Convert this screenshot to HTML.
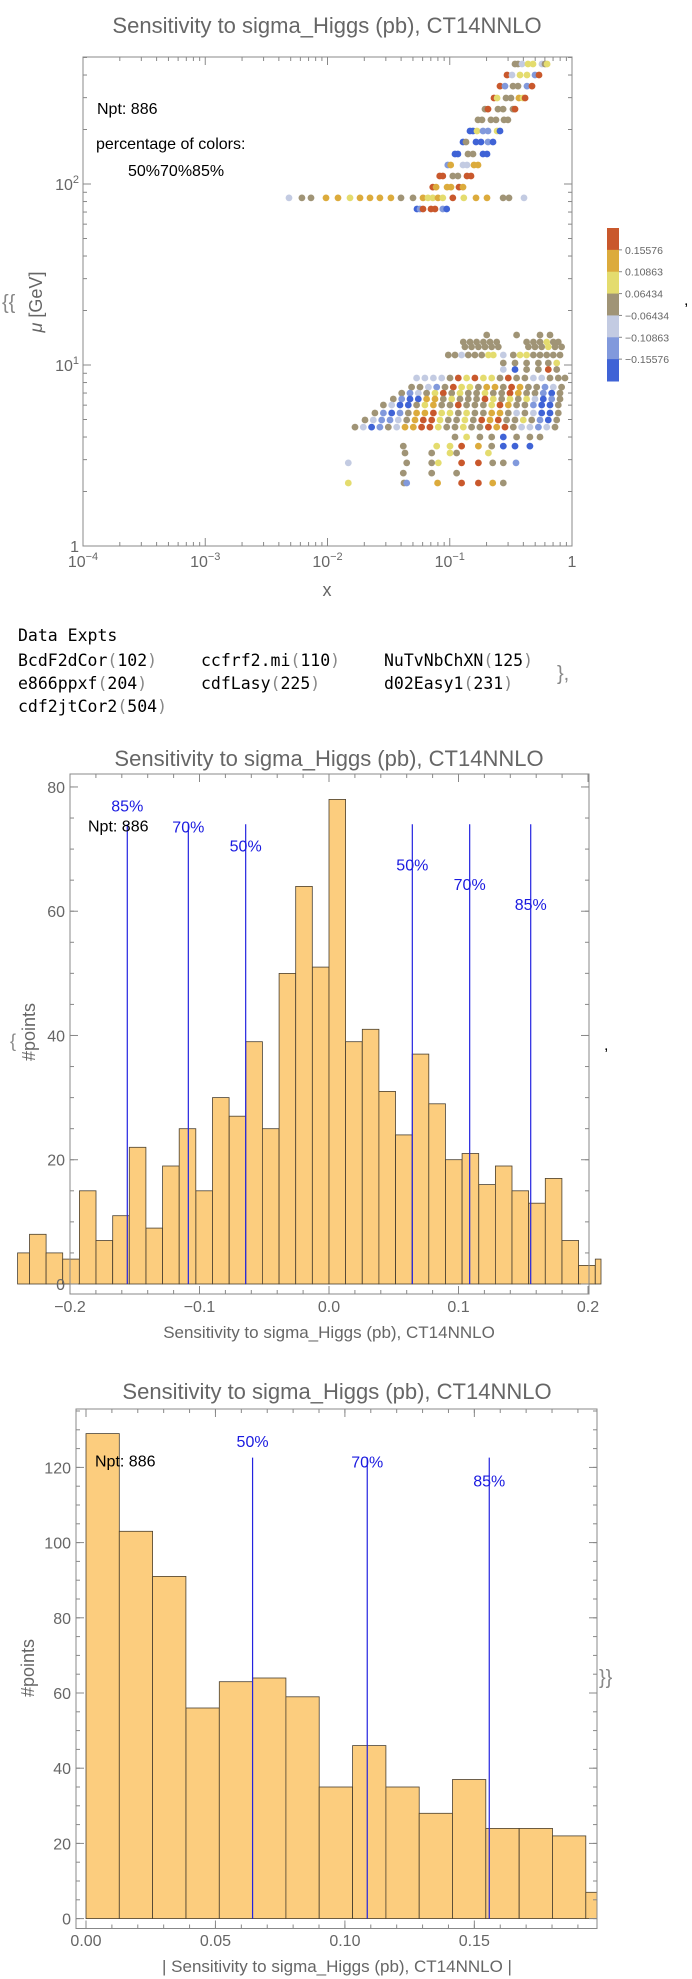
<!DOCTYPE html>
<html><head><meta charset="utf-8"><style>
html,body{margin:0;padding:0;background:#fff;}
svg{display:block;font-family:"Liberation Sans",sans-serif;}
.mono{font-family:"DejaVu Sans Mono","Liberation Mono",monospace;}
</style></head><body>
<svg id="root" width="692" height="1979" viewBox="0 0 692 1979" xmlns="http://www.w3.org/2000/svg">
<g id="p1"></g>
<g id="txt">
<text class="mono" x="18" y="641" font-size="16.5" fill="#000">Data Expts</text>
<text class="mono" x="18" y="666" font-size="16.5" fill="#000">BcdF2dCor<tspan fill="#888">(</tspan>102<tspan fill="#888">)</tspan></text>
<text class="mono" x="201" y="666" font-size="16.5" fill="#000">ccfrf2.mi<tspan fill="#888">(</tspan>110<tspan fill="#888">)</tspan></text>
<text class="mono" x="384" y="666" font-size="16.5" fill="#000">NuTvNbChXN<tspan fill="#888">(</tspan>125<tspan fill="#888">)</tspan></text>
<text class="mono" x="18" y="689" font-size="16.5" fill="#000">e866ppxf<tspan fill="#888">(</tspan>204<tspan fill="#888">)</tspan></text>
<text class="mono" x="201" y="689" font-size="16.5" fill="#000">cdfLasy<tspan fill="#888">(</tspan>225<tspan fill="#888">)</tspan></text>
<text class="mono" x="384" y="689" font-size="16.5" fill="#000">d02Easy1<tspan fill="#888">(</tspan>231<tspan fill="#888">)</tspan></text>
<text class="mono" x="18" y="712" font-size="16.5" fill="#000">cdf2jtCor2<tspan fill="#888">(</tspan>504<tspan fill="#888">)</tspan></text>
<text x="557" y="680" font-size="20" fill="#888">},</text>
</g>
<g id="p2"></g>
<g id="p3"></g>
</svg>
<script>
// ---------- Scatter data (log10 x, log10 mu, colour class codes) ----------
const scatterLogMu = [2.663,2.602,2.541,2.475,2.414,2.354,2.293,2.232,2.166,2.105,2.044,1.983,1.923,1.862,
 1.166,1.127,1.10,1.055,1.011,0.975,0.928,0.878,0.845,0.812,0.779,0.735,0.696,0.657,0.602,0.552,0.514,0.459,0.403,0.348];
const scatterLogX = [
 [-0.466,-0.442,-0.409,-0.360,-0.319,-0.245,-0.221,-0.204],
 [-0.532,-0.491,-0.425,-0.368,-0.303,-0.270],
 [-0.589,-0.548,-0.483,-0.442,-0.368,-0.327],
 [-0.638,-0.613,-0.540,-0.499,-0.434,-0.401,-0.384],
 [-0.712,-0.687,-0.605,-0.564,-0.483,-0.466],
 [-0.769,-0.736,-0.663,-0.622,-0.556,-0.524],
 [-0.834,-0.810,-0.777,-0.728,-0.687,-0.613,-0.589],
 [-0.892,-0.867,-0.785,-0.744,-0.687,-0.646],
 [-0.957,-0.933,-0.851,-0.810,-0.728,-0.695],
 [-1.016,-0.992,-0.892,-0.859,-0.802,-0.769],
 [-1.082,-1.057,-0.975,-0.933,-0.859,-0.826],
 [-1.139,-1.112,-1.022,-0.990,-0.924,-0.892],
 [-2.315,-2.209,-2.135,-2.012,-1.914,-1.816,-1.734,-1.652,-1.571,-1.481,-1.399,-1.301,-1.219,-1.178,-1.139,-1.096,-1.057,-0.975,-0.885,-0.785,-0.695,-0.564,-0.515,-0.393],
 [-1.268,-1.243,-1.219,-1.153,-1.121,-1.057,-1.025],
 [-0.698,-0.453,-0.262,-0.180],
 [-0.889,-0.834,-0.780,-0.725,-0.671,-0.616,-0.371,-0.316,-0.262,-0.207,-0.153,-0.112],
 [-0.876,-0.821,-0.766,-0.712,-0.657,-0.603,-0.357,-0.303,-0.248,-0.194,-0.139,-0.085],
 [-1.012,-0.957,-0.903,-0.848,-0.794,-0.739,-0.684,-0.644,-0.562,-0.480,-0.425,-0.371,-0.316,-0.262,-0.207,-0.153,-0.098],
 [-0.562,-0.466,-0.371,-0.275,-0.194,-0.125],
 [-0.562,-0.466,-0.371,-0.275,-0.194,-0.125],
 [-1.271,-1.203,-1.134,-1.066,-0.998,-0.930,-0.862,-0.794,-0.725,-0.657,-0.589,-0.521,-0.453,-0.385,-0.316,-0.248,-0.180,-0.112,-0.057],
 [-1.312,-1.243,-1.175,-1.107,-1.039,-0.971,-0.903,-0.835,-0.766,-0.698,-0.630,-0.562,-0.494,-0.425,-0.357,-0.289,-0.221,-0.153,-0.085],
 [-1.393,-1.325,-1.257,-1.189,-1.121,-1.053,-0.984,-0.916,-0.848,-0.780,-0.712,-0.644,-0.575,-0.507,-0.439,-0.371,-0.303,-0.235,-0.166,-0.098],
 [-1.462,-1.393,-1.325,-1.257,-1.189,-1.121,-1.053,-0.984,-0.916,-0.848,-0.780,-0.712,-0.644,-0.575,-0.507,-0.439,-0.371,-0.303,-0.235,-0.166,-0.098],
 [-1.543,-1.475,-1.407,-1.339,-1.271,-1.203,-1.134,-1.066,-0.998,-0.930,-0.862,-0.794,-0.725,-0.657,-0.589,-0.521,-0.453,-0.385,-0.316,-0.248,-0.180,-0.112],
 [-1.612,-1.543,-1.475,-1.407,-1.339,-1.271,-1.203,-1.134,-1.066,-0.998,-0.930,-0.862,-0.794,-0.725,-0.657,-0.589,-0.521,-0.453,-0.385,-0.316,-0.248,-0.180,-0.112],
 [-1.693,-1.625,-1.557,-1.489,-1.421,-1.352,-1.284,-1.216,-1.148,-1.080,-1.012,-0.944,-0.876,-0.807,-0.739,-0.671,-0.603,-0.535,-0.466,-0.398,-0.330,-0.262,-0.194,-0.125],
 [-1.775,-1.707,-1.639,-1.571,-1.503,-1.434,-1.366,-1.298,-1.230,-1.162,-1.094,-1.025,-0.957,-0.889,-0.821,-0.753,-0.684,-0.616,-0.548,-0.480,-0.412,-0.344,-0.275,-0.207,-0.139],
 [-0.957,-0.862,-0.753,-0.657,-0.562,-0.453,-0.344,-0.262],
 [-1.380,-1.107,-0.998,-0.903,-0.766,-0.657,-0.562,-0.466,-0.344],
 [-1.366,-1.148,-0.998,-0.944,-0.684],
 [-1.830,-1.352,-1.148,-1.094,-0.903,-0.766,-0.649,-0.562,-0.458],
 [-1.380,-1.148,-0.944],
 [-1.830,-1.374,-1.352,-1.099,-0.903,-0.766,-0.649,-0.562]
];
const scatterCodes = ["BBLYYLBY","RLYYMR","RMBBMR","RYBBGYR","BRBBBR","BBBBBB","DDYMMYD","DBDDMD","DDBBDD","MGLLGG","RRBBRR","RGGGRG",
 "LBBGGYGGGGBBGYYGYRYGGBBL","DMRRRMD",
 "BBBB","BBBBBBBBBYBB","BBBBBBBBBYBB","BBLBBBYYLBYYBBBBB","BBBBBY","LDBBRB",
 "LLLLBRYRYYBRBBLLBBB","BBLMBRYYBGGBRGBBMLB","BMLBYRBYBBYBBRGBBMDB","BMDDGGBYBBBRYBYBYLDMB","BLDDBYGBBRBBBYRGBBMDDB",
 "BMDMBGGRYYBYBBGGBLBLDDB","BLMMLBGRRYBBYBRGRBBYBMDB","BLDMBLGGRRYBBYBBRGRBLLMLB",
 "BYBBDBBB","BYYRGBDDD","BBYBY","LBBYRRBBM","BBB","YBMGRRGB"];
const codeValue = {R:0.18,G:0.13,Y:0.09,B:0.0,L:-0.09,M:-0.13,D:-0.18};
const colorCuts = [-0.15576,-0.10863,-0.06434,0.06434,0.10863,0.15576];
const colorTickLabels = ["0.15576","0.10863","0.06434","\u22120.06434","\u22120.10863","\u22120.15576"];
const scatterXTicks = [-4,-3,-2,-1,0];
const scatterYTicks = [0,1,2];

// ---------- Histogram 1 ----------
const h1Counts = [5,8,5,4,15,7,11,22,9,19,25,15,30,27,39,25,50,64,51,78,39,41,31,24,37,29,20,21,16,19,15,13,17,7,3,4];
const h1FirstBinIndex = -19;
const h1BinWidth = 0.01285;
const h1Lines = [-0.15576,-0.10863,-0.06434,0.06434,0.10863,0.15576];
const h1LineLabels = ["85%","70%","50%","50%","70%","85%"];
const h1LabelLevels = [77,73.6,70.6,67.5,64.4,61.2];
const h1YTicks = [0,20,40,60,80];
const h1XTicks = [-0.2,-0.1,0.0,0.1,0.2];
const h1XTickLabels = ["\u22120.2","\u22120.1","0.0","0.1","0.2"];

// ---------- Histogram 2 (absolute) ----------
const h2Counts = [129,103,91,56,63,64,59,35,46,35,28,37,24,24,22,7];
const h2BinWidth = 0.01287;
const h2Lines = [0.06434,0.10863,0.15576];
const h2LineLabels = ["50%","70%","85%"];
const h2LabelLevels = [127,121.6,116.5];
const h2YTicks = [0,20,40,60,80,100,120];
const h2XTicks = [0,0.05,0.10,0.15];
const h2XTickLabels = ["0.00","0.05","0.10","0.15"];

const NS="http://www.w3.org/2000/svg";
function mk(parent, tag, attrs, text){
  const e=document.createElementNS(NS,tag);
  for(const k in attrs) e.setAttribute(k, attrs[k]);
  if(text!==undefined) e.textContent=text;
  parent.appendChild(e); return e;
}
const GRAY="#666", AX="#888";
const palette=["#3f63d6","#8199dc","#c3cbe2","#a09476","#e4dc6e","#dcab3c","#c9582c"];
function colorFor(v){let i=0;while(i<colorCuts.length&&v>colorCuts[i])i++;return palette[i];}

function frame(g,x0,y0,x1,y1){
  const r=mk(g,'rect',{x:x0,y:y0,width:x1-x0,height:y1-y0,fill:'none',stroke:AX,'stroke-width':1});
  
  
}
function tick(g,x1,y1,x2,y2){
  const l=mk(g,'line',{x1:x1,y1:y1,x2:x2,y2:y2,stroke:AX,'stroke-width':1});
  
  
}
function label(g,x,y,s,size,fill,anchor,name){
  const t=mk(g,'text',{x:x,y:y,'font-size':size,fill:fill,'text-anchor':anchor||'start'},s);
  
  
  return t;
}

// ===== Panel 1: scatter =====
(function(){
  const g=document.getElementById('p1');
  const L=83,R=572,T=57,B=546;
  const sx=lx=>L+(lx+4)*(R-L)/4;
  const sy=lm=>B-lm*181;
  label(g,327,33,'Sensitivity to  sigma_Higgs (pb), CT14NNLO',22,GRAY,'middle','chart-title');
  frame(g,L,T,R,B);
  for(let d=-4;d<0;d++){for(let m=2;m<10;m++){const x=sx(d+Math.log10(m));tick(g,x,B,x,B-4);tick(g,x,T,x,T+4);}}
  scatterXTicks.forEach(d=>{const x=sx(d);tick(g,x,B,x,B-8);tick(g,x,T,x,T+8);
    const t=label(g,x,567,'',16,GRAY,'middle','x-tick-label');
    if(d===0){t.textContent='1';}else{t.textContent='10';mk(t,'tspan',{dy:-7,'font-size':11},String(d).replace('-','\u2212'));}
  });
  for(let d=0;d<3;d++){for(let m=2;m<10;m++){const lm=d+Math.log10(m);if(sy(lm)<T)continue;const y=sy(lm);tick(g,L,y,L+4,y);tick(g,R,y,R-4,y);}}
  scatterYTicks.forEach(d=>{const y=sy(d);tick(g,L,y,L+8,y);tick(g,R,y,R-8,y);
    const t=label(g,79,y+6,'',16,GRAY,'end','y-tick-label');
    if(d===0){t.textContent='1';}else{t.textContent='10';mk(t,'tspan',{dy:-7,'font-size':11},String(d));}
  });
  label(g,327,596,'x',18,GRAY,'middle','x-axis-title');
  const yt=label(g,0,0,'',18,GRAY,'middle','y-axis-title');
  yt.setAttribute('transform','translate(42,302) rotate(-90)');
  mk(yt,'tspan',{'font-style':'italic'},'\u03bc');
  mk(yt,'tspan',{},' [GeV]');
  label(g,2,309,'{{',20,'#888','start','brace-open');
  label(g,684,305,',',16,'#000','start','comma');
  label(g,97,114,'Npt: 886',16,'#000','start','npt-label');
  label(g,96,149,'percentage of colors:',16,'#000','start','percentage-label');
  label(g,128,176,'50%70%85%',16,'#000','start','percentage-values');
  const dots=mk(g,'g',{});
  
  
  scatterLogMu.forEach((lm,i)=>{
    scatterLogX[i].forEach((lx,j)=>{
      const v=codeValue[scatterCodes[i][j]];
      const c=mk(dots,'circle',{cx:sx(lx).toFixed(1),cy:sy(lm).toFixed(1),r:3.4,fill:colorFor(v)});
      
      
    });
  });
  const cb=mk(g,'g',{});
  
  
  const cx0=607,cw=12,cy0=228,bh=153/7;
  for(let k=0;k<7;k++){
    const r=mk(cb,'rect',{x:cx0,y:cy0+k*bh,width:cw,height:bh+0.5,fill:palette[6-k]});
    
    
  }
  colorTickLabels.forEach((s,k)=>{const y=cy0+(k+1)*bh;
    tick(cb,cx0+cw,y,cx0+cw+3,y);
    label(cb,625,y+4,s,10.5,GRAY,'start','legend-entry');
  });
})();

// ===== generic histogram =====
function hist(cfg){
  const g=document.getElementById(cfg.id);
  const {L,R,T,B,x0,xs,y0,ys}=cfg;
  const X=v=>x0+v*xs, Y=v=>y0-v*ys;
  label(g,cfg.titleX,cfg.titleY,'Sensitivity to  sigma_Higgs (pb), CT14NNLO',22,GRAY,'middle','chart-title');
  const bars=mk(g,'g',{});
  
  
  cfg.counts.forEach((c,i)=>{
    let a=X((cfg.first+i)*cfg.w), b=X((cfg.first+i+1)*cfg.w);
    a=Math.max(a,cfg.clipL); b=Math.min(b,cfg.clipR);
    if(b<=a) return;
    const r=mk(bars,'rect',{x:a.toFixed(1),y:Y(c).toFixed(1),width:(b-a).toFixed(1),height:(y0-Y(c)).toFixed(1),fill:'#fccd7e',stroke:'#4a4030','stroke-width':0.8});
    
    
  });
  frame(g,L,T,R,B);
  cfg.yTicks.forEach(v=>{const y=Y(v);tick(g,L,y,L+8,y);tick(g,R,y,R-8,y);label(g,L-5,y+6,String(v),16,GRAY,'end','y-tick-label');});
  for(let v=0;v<=cfg.yMax;v+=5){const y=Y(v);if(y<T)break;tick(g,L,y,L+4,y);tick(g,R,y,R-4,y);}
  cfg.xTicks.forEach((v,i)=>{const x=X(v);tick(g,x,B,x,B-8);tick(g,x,T,x,T+8);label(g,x,cfg.xLabY,cfg.xTickLabels[i],16,GRAY,'middle','x-tick-label');});
  for(let v=cfg.minorStart;v<=cfg.minorEnd+1e-9;v+=cfg.minor){const x=X(v);if(x<L||x>R)continue;tick(g,x,B,x,B-4);tick(g,x,T,x,T+4);}
  label(g,cfg.xTitleX,cfg.xTitleY,cfg.xTitle,17,GRAY,'middle','x-axis-title');
  const yt=label(g,0,0,'#points',18,GRAY,'middle','y-axis-title');
  yt.setAttribute('transform','translate('+cfg.yTitleX+','+cfg.yTitleY+') rotate(-90)');
  cfg.lines.forEach((v,i)=>{const x=X(v);
    const l=mk(g,'line',{x1:x,y1:Y(cfg.lineTop),x2:x,y2:y0,stroke:'#2323e0','stroke-width':1.2});
    
    
    label(g,x,Y(cfg.labelLevels[i])+6,cfg.lineLabels[i],16,'#1a1ae0','middle','percentile-label');
  });
  label(g,cfg.nptX,Y(cfg.nptLevel)+6,'Npt: 886',16,'#000','start','npt-label');
  return g;
}
const g2=hist({id:'p2',L:70,R:589,T:774,B:1294,x0:329,xs:1295,y0:1284,ys:6.213,
  titleX:329,titleY:766,counts:h1Counts,first:h1FirstBinIndex,w:h1BinWidth,clipL:17.6,clipR:601,
  yTicks:h1YTicks,yMax:80,xTicks:h1XTicks,xTickLabels:h1XTickLabels,xLabY:1312,minor:0.02,minorStart:-0.24,minorEnd:0.24,
  xTitle:'Sensitivity to  sigma_Higgs (pb), CT14NNLO',xTitleX:329,xTitleY:1338,yTitleX:35,yTitleY:1032,
  lines:h1Lines,lineLabels:h1LineLabels,labelLevels:h1LabelLevels,lineTop:74,nptX:88,nptLevel:73.8});
label(g2,10,1047,'{',18,'#888','start','brace-open');
label(g2,604,1050,',',16,'#000','start','comma');
const g3=hist({id:'p3',L:76,R:597,T:1409,B:1928.5,x0:86,xs:2589,y0:1918.6,ys:3.76,
  titleX:337,titleY:1399,counts:h2Counts,first:0,w:h2BinWidth,clipL:76,clipR:597,
  yTicks:h2YTicks,yMax:135,xTicks:h2XTicks,xTickLabels:h2XTickLabels,xLabY:1946,minor:0.01,minorStart:0,minorEnd:0.2,
  xTitle:'| Sensitivity to  sigma_Higgs (pb), CT14NNLO |',xTitleX:337,xTitleY:1972,yTitleX:34,yTitleY:1668,
  lines:h2Lines,lineLabels:h2LineLabels,labelLevels:h2LabelLevels,lineTop:122.6,nptX:95,nptLevel:121.8});
label(g3,599,1684,'}}',20,'#888','start','brace-close');
</script>
</body></html>
